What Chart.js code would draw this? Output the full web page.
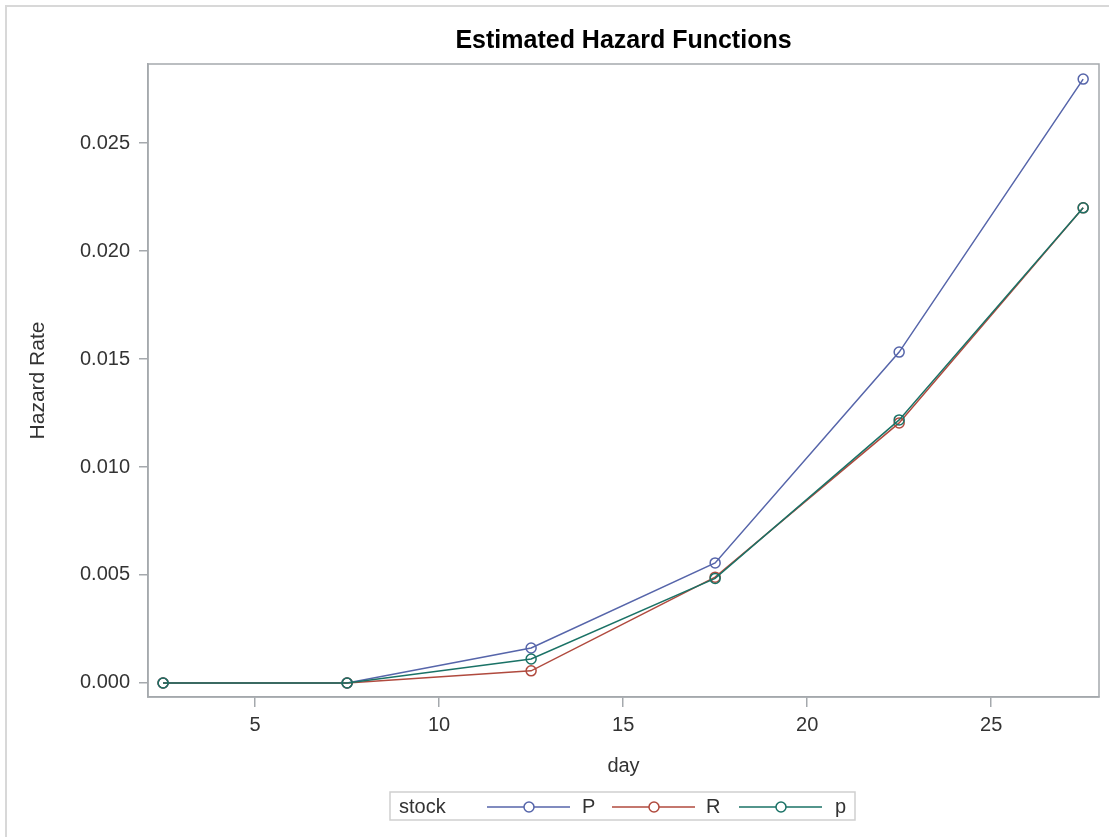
<!DOCTYPE html>
<html>
<head>
<meta charset="utf-8">
<script src="https://cdn.jsdelivr.net/npm/chart.js@4.4.1/dist/chart.umd.min.js"></script>
<style>
  html, body { margin: 0; padding: 0; background: #fff; }
  #wrap { width: 1109px; height: 837px; position: relative; }
</style>
</head>
<body>
<div id="wrap"><canvas id="chart" width="1109" height="837"></canvas></div>
<script>
// Estimated hazard functions by stock group
const days = [2.5, 7.5, 12.5, 17.5, 22.5, 27.5];
const hazardP = [0, 0, 0.00162, 0.00556, 0.01532, 0.02796];
const hazardR = [0, 0, 0.00056, 0.00490, 0.01204, 0.02200];
const hazardLowP = [0, 0, 0.00111, 0.00484, 0.01218, 0.02200];
const seriesNames = ["P", "R", "p"];
const xTickValues = [5, 10, 15, 20, 25];
const yTickValues = [0, 0.005, 0.01, 0.015, 0.02, 0.025];

const COLORS = ["#5665aa", "#b04a3e", "#1a7266"];
const FONT = "'Liberation Sans', Arial, sans-serif";
const AXIS_GRAY = "#a5a9ad";

function pts(vals) {
  return days.map((d, i) => ({ x: d, y: vals[i] }));
}

function ds(label, vals, color, order) {
  return {
    label,
    data: pts(vals),
    borderColor: color,
    borderWidth: 1.5,
    pointStyle: "circle",
    pointRadius: 5,
    pointBorderWidth: 1.5,
    pointBorderColor: color,
    pointBackgroundColor: "rgba(0,0,0,0)",
    pointHoverRadius: 5,
    tension: 0,
    order,
  };
}

// frame, title, plot box and the "stock" legend
const decor = {
  id: "decor",
  afterDraw(chart) {
    const { ctx, chartArea: a } = chart;
    ctx.save();
    // outer page border (left + top only, as in the crop)
    ctx.strokeStyle = "#d8d8d8";
    ctx.lineWidth = 2;
    ctx.beginPath();
    ctx.moveTo(6, chart.height);
    ctx.lineTo(6, 6);
    ctx.lineTo(chart.width, 6);
    ctx.stroke();

    // plot box
    ctx.strokeStyle = AXIS_GRAY;
    ctx.lineWidth = 1.5;
    ctx.strokeRect(a.left, a.top, a.right - a.left, a.bottom - a.top);

    // title
    ctx.fillStyle = "#000";
    ctx.font = "bold 25px " + FONT;
    ctx.textAlign = "center";
    ctx.textBaseline = "alphabetic";
    ctx.fillText("Estimated Hazard Functions", (a.left + a.right) / 2, 48);

    // legend
    const bx = 390, by = 792, bw = 465, bh = 28;
    ctx.strokeStyle = "#cfcfcf";
    ctx.lineWidth = 1.5;
    ctx.strokeRect(bx, by, bw, bh);
    ctx.font = "20px " + FONT;
    ctx.fillStyle = "#333";
    ctx.textAlign = "left";
    ctx.textBaseline = "middle";
    const cy = by + bh / 2 + 1;
    ctx.fillText("stock", 399, cy);
    const lineStarts = [487, 612, 739];
    const textX = [582, 706, 835];
    chart.data.datasets.forEach((d, i) => {
      const x0 = lineStarts[i];
      ctx.strokeStyle = d.borderColor;
      ctx.lineWidth = 1.5;
      ctx.beginPath();
      ctx.moveTo(x0, cy);
      ctx.lineTo(x0 + 83, cy);
      ctx.stroke();
      ctx.fillStyle = "#fff";
      ctx.beginPath();
      ctx.arc(x0 + 42, cy, 5, 0, Math.PI * 2);
      ctx.fill();
      ctx.stroke();
      ctx.fillStyle = "#333";
      ctx.fillText(seriesNames[i], textX[i], cy);
    });
    ctx.restore();
  },
};

new Chart(document.getElementById("chart"), {
  type: "line",
  data: {
    datasets: [
      ds(seriesNames[0], hazardP, COLORS[0], 3),
      ds(seriesNames[1], hazardR, COLORS[1], 2),
      ds(seriesNames[2], hazardLowP, COLORS[2], 1),
    ],
  },
  options: {
    responsive: false,
    animation: false,
    devicePixelRatio: 1,
    layout: { padding: { left: 0, top: 64, right: 10, bottom: 40 } },
    plugins: {
      legend: { display: false },
      title: { display: false },
      tooltip: { enabled: false },
    },
    scales: {
      x: {
        type: "linear",
        min: 2.09,
        max: 27.93,
        afterFit: (s) => { s.height = 100; },
        afterBuildTicks: (s) => { s.ticks = xTickValues.map((v) => ({ value: v })); },
        grid: { display: true, drawOnChartArea: false, drawTicks: true, tickLength: 10, color: AXIS_GRAY, lineWidth: 1.5 },
        border: { display: true, color: AXIS_GRAY, width: 1.5 },
        ticks: { color: "#333", font: { family: FONT, size: 20 }, padding: 6, maxRotation: 0 },
        title: { display: true, text: "day", color: "#333", font: { family: FONT, size: 20 }, padding: { top: 0, bottom: 19 } },
      },
      y: {
        min: -0.00065,
        max: 0.02866,
        afterFit: (s) => { s.width = 148; },
        afterBuildTicks: (s) => { s.ticks = yTickValues.map((v) => ({ value: v })); },
        grid: { display: true, drawOnChartArea: false, drawTicks: true, tickLength: 9, color: AXIS_GRAY, lineWidth: 1.5 },
        border: { display: true, color: AXIS_GRAY, width: 1.5 },
        ticks: { color: "#333", font: { family: FONT, size: 20 }, padding: 9, callback: (v) => v.toFixed(3) },
        title: { display: true, text: "Hazard Rate", color: "#333", font: { family: FONT, size: 21 }, padding: { top: 26, bottom: 0 } },
      },
    },
  },
  plugins: [decor],
});
</script>
</body>
</html>
